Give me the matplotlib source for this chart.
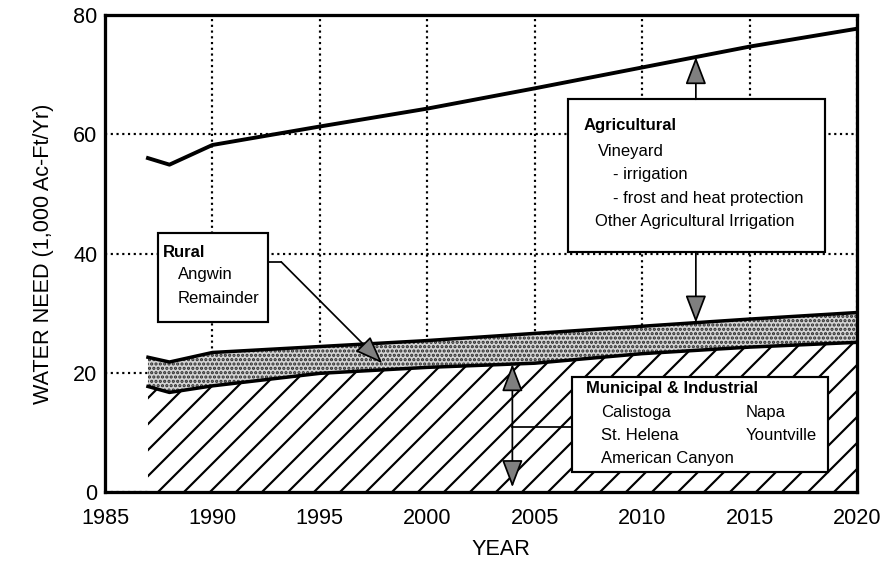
import numpy as np
import matplotlib
matplotlib.use("Agg")
import matplotlib.pyplot as plt
from matplotlib.patches import Rectangle

# ---------------- data (1,000 Ac-Ft/Yr) ----------------
years = [1987, 1988, 1990, 1995, 2000, 2005, 2010, 2015, 2020]
municipal_industrial = [17.7, 16.7, 17.8, 19.9, 20.9, 21.6, 23.2, 24.3, 25.1]
rural = [4.9, 5.1, 5.6, 4.5, 4.5, 5.0, 4.6, 4.7, 5.0]
agricultural = [33.4, 33.1, 34.8, 36.9, 38.9, 41.1, 43.4, 45.7, 47.6]

x_ticks = [1985, 1990, 1995, 2000, 2005, 2010, 2015, 2020]
y_ticks = [0, 20, 40, 60, 80]
x_tick_labels = ["1985", "1990", "1995", "2000", "2005", "2010", "2015", "2020"]
y_tick_labels = ["0", "20", "40", "60", "80"]

rural_lines = ["Rural", "Angwin", "Remainder"]
ag_lines = ["Agricultural", "Vineyard", "- irrigation",
            "- frost and heat protection", "Other Agricultural Irrigation"]
mi_lines = ["Municipal & Industrial", "Calistoga", "Napa",
            "St. Helena", "Yountville", "American Canyon"]

# ---------------- figure ----------------
DPI = 156
plt.rcParams['font.family'] = ['Liberation Sans', 'DejaVu Sans']
plt.rcParams['hatch.linewidth'] = 1.0

fig = plt.figure(figsize=(882 / DPI, 571 / DPI), dpi=DPI)
ax = fig.add_axes([105 / 882, 1 - 492 / 571, (857 - 105) / 882, (492 - 15) / 571])

yrs = np.array(years, float)
mi = np.array(municipal_industrial, float)
rural_top = mi + np.array(rural, float)
ag_top = rural_top + np.array(agricultural, float)

ax.set_xlim(x_ticks[0], x_ticks[-1])
ax.set_ylim(y_ticks[0], y_ticks[-1])
ax.set_xticks(x_ticks, x_tick_labels)
ax.set_yticks(y_ticks, y_tick_labels)
ax.tick_params(axis='both', length=0, labelsize=10, colors='black')
ax.tick_params(axis='x', pad=7.2)
ax.tick_params(axis='y', pad=3.6)

ax.set_axisbelow(True)
ax.grid(True, color='black', linestyle=':', linewidth=1.0)

for s in ax.spines.values():
    s.set_linewidth(1.5)
    s.set_color('black')
    s.set_zorder(10)

# Municipal & Industrial (hatched)
ax.fill_between(yrs, 0, mi, facecolor='white', edgecolor='black',
                hatch='//', linewidth=0, zorder=2)
# Rural (stippled)
ax.fill_between(yrs, mi, rural_top, facecolor='#d4d4d4', edgecolor='#2a2a2a',
                hatch='......', linewidth=0, zorder=2)

ax.plot(yrs, mi, color='black', lw=1.6, zorder=3, solid_joinstyle='round')
ax.plot(yrs, rural_top, color='black', lw=1.6, zorder=3, solid_joinstyle='round')
ax.plot(yrs, ag_top, color='black', lw=1.8, zorder=3, solid_joinstyle='round')

head = dict(fc='#7f7f7f', ec='black', lw=0.8, mutation_scale=10,
            shrinkA=0, shrinkB=0)

def box(x0, x1, y0, y1):
    ax.add_patch(Rectangle((x0, y0), x1 - x0, y1 - y0, facecolor='white',
                           edgecolor='black', linewidth=1.0, zorder=5))

TXT = 7.7

# ---- Rural box ----
box(1987.47, 1992.58, 28.5, 43.4)
ax.text(1987.7, 40.25, rural_lines[0], fontsize=TXT, fontweight='bold', va='center', zorder=7)
ax.text(1988.4, 36.4, rural_lines[1], fontsize=TXT, va='center', zorder=7)
ax.text(1988.4, 32.5, rural_lines[2], fontsize=TXT, va='center', zorder=7)
ax.plot([1992.58, 1993.2], [38.6, 38.6], color='black', lw=0.8, zorder=6)
ax.annotate('', xy=(1997.9, 21.6), xytext=(1993.2, 38.6),
            arrowprops=dict(arrowstyle='-|>,head_length=1.1,head_width=0.42', **head),
            zorder=6)

# ---- Agricultural box ----
box(2006.57, 2018.5, 40.3, 65.86)
ax.text(2007.26, 61.4, ag_lines[0], fontsize=TXT, fontweight='bold', va='center', zorder=7)
ax.text(2007.96, 57.1, ag_lines[1], fontsize=TXT, va='center', zorder=7)
ax.text(2008.65, 53.2, ag_lines[2], fontsize=TXT, va='center', zorder=7)
ax.text(2008.65, 49.3, ag_lines[3], fontsize=TXT, va='center', zorder=7)
ax.text(2007.8, 45.3, ag_lines[4], fontsize=TXT, va='center', zorder=7)
x_ag = 2012.5
ax.annotate('', xy=(x_ag, np.interp(x_ag, yrs, ag_top)), xytext=(x_ag, 65.86),
            arrowprops=dict(arrowstyle='-|>,head_length=1.1,head_width=0.42', **head),
            zorder=6)
ax.annotate('', xy=(x_ag, np.interp(x_ag, yrs, rural_top)), xytext=(x_ag, 40.3),
            arrowprops=dict(arrowstyle='-|>,head_length=1.1,head_width=0.42', **head),
            zorder=6)

# ---- Municipal & Industrial box ----
box(2006.72, 2018.66, 3.41, 19.34)
ax.text(2007.41, 17.3, mi_lines[0], fontsize=TXT, fontweight='bold', va='center', zorder=7)
ax.text(2008.1, 13.3, mi_lines[1], fontsize=TXT, va='center', zorder=7)
ax.text(2014.8, 13.3, mi_lines[2], fontsize=TXT, va='center', zorder=7)
ax.text(2008.1, 9.45, mi_lines[3], fontsize=TXT, va='center', zorder=7)
ax.text(2014.8, 9.45, mi_lines[4], fontsize=TXT, va='center', zorder=7)
ax.text(2008.1, 5.65, mi_lines[5], fontsize=TXT, va='center', zorder=7)
x_mi = 2003.96
ax.annotate('', xy=(x_mi, np.interp(x_mi, yrs, mi)), xytext=(x_mi, 0.8),
            arrowprops=dict(arrowstyle='<|-|>,head_length=1.1,head_width=0.42', **head),
            zorder=6)
ax.plot([x_mi, 2006.72], [10.95, 10.95], color='black', lw=0.8, zorder=6)

# ---- axis labels ----
ax.set_xlabel("YEAR", fontsize=10)
ax.xaxis.set_label_coords(0.526, -0.0985)
ax.set_ylabel("WATER NEED (1,000 Ac-Ft/Yr)", fontsize=10)
ax.yaxis.set_label_coords(-0.068, 0.5)

fig.savefig("out.png", dpi=DPI)
